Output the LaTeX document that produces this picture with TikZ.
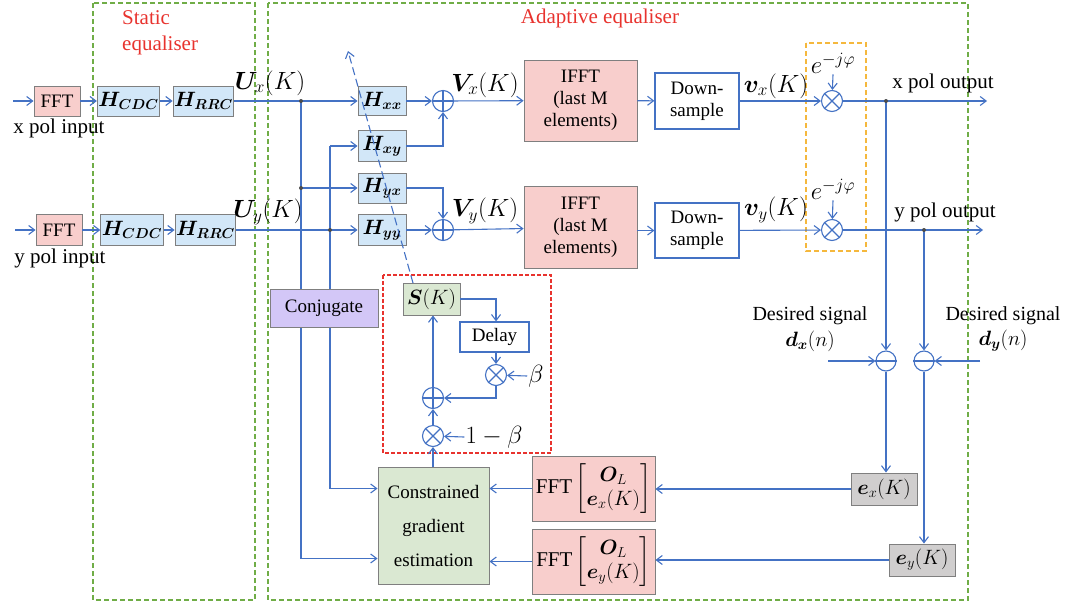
\documentclass[tikz,border=0pt]{standalone}
\usepackage{amsmath,bm}
\usepackage{fontspec}
\setmainfont{Liberation Serif}
\usetikzlibrary{arrows.meta,calc}
\definecolor{lineblue}{HTML}{4472C4}
\definecolor{boxgray}{HTML}{7F7F7F}
\definecolor{pinkfill}{HTML}{F8CECC}
\definecolor{bluefill}{HTML}{D2E7F8}
\definecolor{greenfill}{HTML}{DAE8D2}
\definecolor{purplefill}{HTML}{D3C7F7}
\definecolor{grayfill}{HTML}{D0CECE}
\definecolor{dashgreen}{HTML}{70AD47}
\definecolor{dashorange}{HTML}{F5B83D}
\definecolor{dashred}{HTML}{E8332E}
\definecolor{titlered}{HTML}{E8332E}
\newcommand\bxfont{\fontsize{19}{22}\selectfont}
\newcommand\lbfont{\fontsize{21}{24}\selectfont}
\newcommand\mathfont{\fontsize{23}{26}\selectfont}
\newcommand\mulmark[1]{\draw[wire] (#1.north west)--(#1.south east) (#1.north east)--(#1.south west);}
\newcommand\summark[1]{\draw[wire] (#1.north)--(#1.south) (#1.west)--(#1.east);}
\newcommand\submark[1]{\draw[wire] (#1.west)--(#1.east);}
\begin{document}
\begin{tikzpicture}[x=1pt,y=-1pt,
  wire/.style={draw=lineblue,line width=1.1pt},
  feed/.style={wire,-{Straight Barb[length=6pt,width=9pt]}},
  box/.style={draw=boxgray,line width=0.9pt,inner sep=1pt,align=center,font=\bxfont},
  pinkbox/.style={box,fill=pinkfill},
  hbox/.style={box,fill=bluefill,font=\fontsize{20}{23}\selectfont},
  wbox/.style={box,draw=lineblue,line width=1.2pt,fill=white},
  op/.style={circle,draw=lineblue,line width=1.1pt,minimum size=21pt,inner sep=0pt,fill=white},
  lbl/.style={font=\lbfont,inner sep=1pt},
  mlbl/.style={font=\mathfont,inner sep=1pt},
  jdot/.style={circle,fill=black!70,inner sep=0pt,minimum size=4pt},
  grdash/.style={draw=dashgreen,line width=1.3pt,dash pattern=on 5pt off 3pt},
]
\useasboundingbox (0,0) rectangle (1065,606);

% equaliser frames
\draw[grdash] (93,3) rectangle (255,600);
\draw[grdash] (268,3) rectangle (968,600);
\node[anchor=west,text=titlered,font=\lbfont,inner sep=0pt] (tst1) at (122,18) {Static};
\node[anchor=west,text=titlered,font=\lbfont,inner sep=0pt] (tst2) at (122,45) {equaliser};
\node[text=titlered,font=\lbfont,inner sep=0pt] (tad) at (600,18) {Adaptive equaliser};
\draw[draw=dashorange,line width=1.3pt,dash pattern=on 5pt off 3pt] (806,43) rectangle (866,251);
\draw[draw=dashred,line width=1.1pt,dash pattern=on 4pt off 2pt] (383,275) rectangle (551,453);

% static part
\coordinate (inx) at (13,101);
\coordinate (iny) at (15,230);
\node[pinkbox,minimum width=46pt,minimum height=30pt] (fftx) at (57,101) {FFT};
\node[pinkbox,minimum width=46pt,minimum height=31pt] (ffty) at (59,230) {FFT};
\node[hbox,minimum width=55pt,minimum height=30pt] (cdcx) at (128.5,101) {$\bm{H}_{\bm{CDC}}$};
\node[hbox,minimum width=54pt,minimum height=31pt] (cdcy) at (132,230) {$\bm{H}_{\bm{CDC}}$};
\node[hbox,minimum width=55pt,minimum height=30pt] (rrcx) at (203.5,101) {$\bm{H}_{\bm{RRC}}$};
\node[hbox,minimum width=55pt,minimum height=31pt] (rrcy) at (205.5,230) {$\bm{H}_{\bm{RRC}}$};
\node[lbl] (tinx) at (59,128) {x pol input};
\node[lbl] (tiny) at (60,258) {y pol input};
\node[mlbl] (tux) at (270,83) {$\bm{U}_x(K)$};
\node[mlbl] (tuy) at (268,212) {$\bm{U}_y(K)$};

% butterfly filters
\node[hbox,minimum width=48pt,minimum height=29pt] (hxx) at (382,101) {$\bm{H}_{\bm{xx}}$};
\node[hbox,minimum width=48pt,minimum height=31pt] (hxy) at (382,146) {$\bm{H}_{\bm{xy}}$};
\node[hbox,minimum width=48pt,minimum height=30pt] (hyx) at (382,188) {$\bm{H}_{\bm{yx}}$};
\node[hbox,minimum width=48pt,minimum height=31pt] (hyy) at (382,230) {$\bm{H}_{\bm{yy}}$};
\node[op] (sx) at (443,101) {};
\node[op] (sy) at (443,230) {};
\summark{sx}\summark{sy}
\node[mlbl] (tvx) at (485,85) {$\bm{V}_x(K)$};
\node[mlbl] (tvy) at (485,211) {$\bm{V}_y(K)$};

% output stages
\node[pinkbox,minimum width=113pt,minimum height=81pt] (ifx) at (580.5,100.5) {IFFT\\(last M\\elements)};
\node[pinkbox,minimum width=113pt,minimum height=82pt] (ify) at (580.5,227.5) {IFFT\\(last M\\elements)};
\node[wbox,minimum width=84pt,minimum height=56pt] (dsx) at (697,101) {Down-\\sample};
\node[wbox,minimum width=84pt,minimum height=55pt] (dsy) at (697,230.5) {Down-\\sample};
\node[mlbl] (tsx) at (776,86) {$\bm{v}_x(K)$};
\node[mlbl] (tsy) at (776,210) {$\bm{v}_y(K)$};
\node[op] (mx) at (832,101) {};
\node[op] (my) at (832,230) {};
\mulmark{mx}\mulmark{my}
\node[mlbl] (phx) at (833,63) {$e^{-j\varphi}$};
\node[mlbl] (phy) at (833,189) {$e^{-j\varphi}$};
\coordinate (outx) at (987,101);
\coordinate (outy) at (983,230);
\node[lbl] (toutx) at (943,83) {x pol output};
\node[lbl] (touty) at (945,212) {y pol output};

% error computation
\node[op,minimum size=20pt] (dx) at (886,361) {};
\node[op,minimum size=20pt] (dy) at (924,361) {};
\submark{dx}\submark{dy}
\node[lbl,font=\fontsize{20}{23}\selectfont] (tdsx) at (810,316) {Desired signal};
\node[mlbl,font=\lbfont] (tdx) at (810,341) {$\bm{d_x}(n)$};
\node[lbl,font=\fontsize{20}{23}\selectfont] (tdsy) at (1003,316) {Desired signal};
\node[mlbl,font=\lbfont] (tdy) at (1003,341) {$\bm{d_y}(n)$};
\coordinate (dinx) at (828,361);
\coordinate (diny) at (980,361);
\node[box,fill=grayfill,minimum width=66pt,minimum height=32pt,font=\lbfont] (ex) at (884,489) {$\bm{e}_x(K)$};
\node[box,fill=grayfill,minimum width=66pt,minimum height=32pt,font=\lbfont] (ey) at (922,560) {$\bm{e}_y(K)$};
\node[pinkbox,minimum width=123pt,minimum height=65pt,inner sep=0pt,font=\fontsize{21}{24}\selectfont] (fex) at (593.5,488.5)
  {FFT\,$\begin{bmatrix}\bm{O}_L\\ \bm{e}_x(K)\end{bmatrix}$};
\node[pinkbox,minimum width=123pt,minimum height=65pt,inner sep=0pt,font=\fontsize{21}{24}\selectfont] (fey) at (593.5,561.5)
  {FFT\,$\begin{bmatrix}\bm{O}_L\\ \bm{e}_y(K)\end{bmatrix}$};
\node[box,fill=greenfill,minimum width=111pt,minimum height=117pt,font=\fontsize{19}{34}\selectfont] (cg) at (433.5,525.5)
  {Constrained\\gradient\\estimation};

% step-size smoothing loop
\node[box,fill=greenfill,minimum width=57pt,minimum height=32pt,font=\lbfont] (sk) at (431.5,299) {$\bm{S}(K)$};
\node[wbox,minimum width=69pt,minimum height=30pt] (dly) at (494.5,337) {Delay};
\node[op] (mb) at (496,375) {};
\node[op] (sf) at (433,398) {};
\node[op] (m1b) at (433,436) {};
\mulmark{mb}\summark{sf}\mulmark{m1b}
\node[lbl,font=\fontsize{23}{26}\selectfont] (tb) at (536,376) {$\beta$};
\node[lbl,font=\fontsize{23}{26}\selectfont] (t1b) at (494,437) {$1-\beta$};

% signal path
\draw[feed] (inx) -- (fftx);
\draw[feed] (iny) -- (ffty);
\draw[feed] (fftx) -- (cdcx);
\draw[feed] (ffty) -- (cdcy);
\draw[feed] (cdcx) -- (rrcx);
\draw[feed] (cdcy) -- (rrcy);
\draw[feed] (rrcx) -- (hxx);
\draw[feed] (rrcy) -- (hyy);
\coordinate (jx) at (301,101);
\coordinate (jyx) at (301,188);
\coordinate (jy) at (330,230);
\draw[feed] (jyx) -- (hyx);
\draw[feed] (jx) |- ($(cg.west)+(0,33)$);
\draw[feed] (jy |- hxy) -- (hxy);
\draw[feed] (jy |- hxy) |- ($(cg.west)+(0,-37)$);
\draw[feed] (hxx) -- (sx);
\draw[feed] (hxy) -| (sx);
\draw[feed] (hyx) -| (sy);
\draw[feed] (hyy) -- (sy);
\draw[feed] (sx) -- (ifx);
\draw[feed] (sy) -- (ify);
\draw[feed] (ifx) -- (dsx);
\draw[feed] (ify.east |- dsy) -- (dsy);
\draw[feed] (dsx) -- (mx);
\draw[feed] (dsy) -- (my);
\draw[feed] (phx.south) -- (mx);
\draw[feed] (phy.south) -- (my);
\draw[feed] (mx) -- (outx);
\draw[feed] (my) -- (outy);
\coordinate (ox) at (886,101);
\coordinate (oy) at (924,230);
\draw[feed] (ox) -- (dx);
\draw[feed] (oy) -- (dy);
\draw[feed] (dinx) -- (dx);
\draw[feed] (diny) -- (dy);
\draw[feed] (dx) -- (dx |- ex.north);
\draw[feed] (dy) -- (dy |- ey.north);
\draw[feed] (ex) -- (fex.east |- ex);
\draw[feed] (ey) -- (fey.east |- ey);
\draw[feed] (fex.west) -- (cg.east |- fex.west);
\draw[feed] (fey.west) -- (cg.east |- fey.west);
\draw[feed] (cg.north -| m1b) -- (m1b);
\draw[feed] (m1b) -- (sf);
\draw[feed] (sf) -- (sf |- sk.south);
\draw[feed] (sk.east) -| (dly.north -| mb);
\draw[feed] (dly.south -| mb) -- (mb);
\draw[feed] (mb) |- (sf);
\draw[feed] (tb.west) -- (mb);
\draw[feed] (t1b.west) -- (m1b);

% junction dots
\foreach \p in {jx,jyx,jy,ox,oy} \node[jdot] at (\p) {};

% conjugate block sits over the feed lines
\node[box,fill=purplefill,minimum width=108pt,minimum height=38pt] (conj) at (324,308) {Conjugate};

% step-size update acting on the filters
\draw[wire,dashed,dash pattern=on 8pt off 4pt,-{Straight Barb[length=6pt,width=9pt]}] (413,283) -- (348,51);
\end{tikzpicture}
\end{document}
